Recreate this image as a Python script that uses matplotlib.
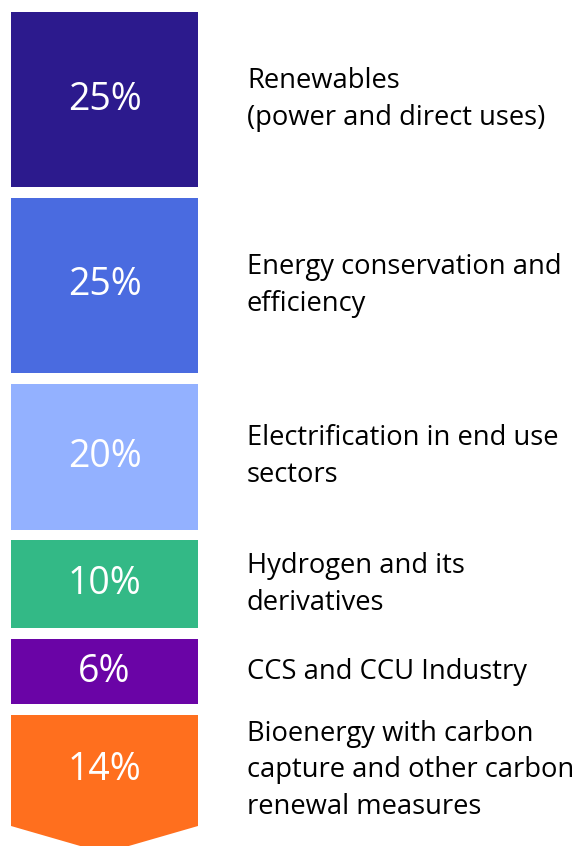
"""Stacked share-of-abatement column with side labels."""

import matplotlib

matplotlib.use("Agg")

import matplotlib.pyplot as plt  # noqa: E402
from matplotlib.patches import Polygon  # noqa: E402

SHARES = [25, 25, 20, 10, 6, 14]
MEASURES = [
    "Renewables\n(power and direct uses)",
    "Energy conservation and\nefficiency",
    "Electrification in end use\nsectors",
    "Hydrogen and its\nderivatives",
    "CCS and CCU Industry",
    "Bioenergy with carbon\ncapture and other carbon\nrenewal measures",
]

COLORS = ["#2c1a8d", "#4a6be0", "#93b1ff", "#33b986", "#6a04a6", "#ff6f1e"]

# canvas is laid out in pixel units (y grows downward)
W, H = 582, 846
BOX_LEFT, BOX_W = 11, 187
TOP = 12
GAP = 10.8
BASE_H, PER_PCT = 30.0, 5.8   # block height = BASE_H + PER_PCT * share
TIP = 27
TEXT_X = 247
FONT = ["Open Sans", "DejaVu Sans"]

fig = plt.figure(figsize=(W / 100, H / 100), dpi=100)
ax = fig.add_axes([0, 0, 1, 1])
ax.set_xlim(0, W)
ax.set_ylim(H, 0)
ax.axis("off")

y = TOP
for i, (share, label, color) in enumerate(zip(SHARES, MEASURES, COLORS)):
    h = BASE_H + PER_PCT * share
    ax.bar(BOX_LEFT + BOX_W / 2, h, bottom=y, width=BOX_W, color=color,
           linewidth=0, zorder=2)
    if i == len(SHARES) - 1:
        # last block ends in a downward chevron
        ax.add_patch(Polygon(
            [(BOX_LEFT, y + h), (BOX_LEFT + BOX_W, y + h),
             (BOX_LEFT + BOX_W / 2, y + h + TIP)],
            closed=True, facecolor=color, edgecolor="none", zorder=2))
    mid = y + h / 2
    ax.text(BOX_LEFT + BOX_W / 2, mid, f"{share}%", color="white",
            fontsize=27, ha="center", va="center", family=FONT, zorder=3)
    ax.text(TEXT_X, mid, label, color="black", fontsize=19.7, ha="left",
            va="center", family=FONT, linespacing=1.42)
    y += h + GAP

fig.savefig("out.png", dpi=100, facecolor="white")
